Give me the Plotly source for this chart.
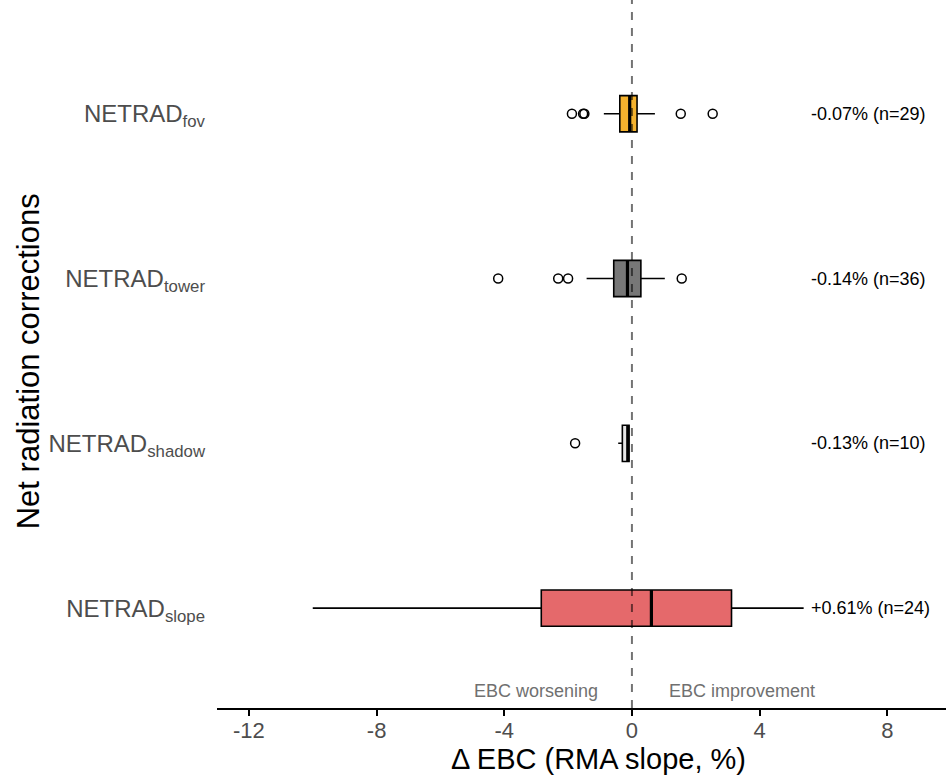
import plotly.graph_objects as go

# ---------------- data ----------------
categories = ["NETRAD<sub>slope</sub>", "NETRAD<sub>shadow</sub>", "NETRAD<sub>tower</sub>", "NETRAD<sub>fov</sub>"]
q1 = [-2.84, -0.30, -0.57, -0.38]
median = [0.61, -0.13, -0.14, -0.07]
q3 = [3.12, -0.09, 0.28, 0.16]
lower_whisker = [-10.0, -0.43, -1.42, -0.88]
upper_whisker = [5.38, -0.09, 1.03, 0.72]
outliers = [
    [],
    [-1.78],
    [-4.19, -2.31, -2.0, 1.56],
    [-1.88, -1.53, -1.49, 1.53, 2.53],
]
labels = ["+0.61% (n=24)", "-0.13% (n=10)", "-0.14% (n=36)", "-0.07% (n=29)"]
fill_colors = ["#E5696B", "#E6E6E6", "#777777", "#F4B22E"]

FONT = "Liberation Sans, Arial, sans-serif"
pos = list(range(len(categories)))
BOXW = 0.22

fig = go.Figure()

for i in pos:
    fig.add_trace(go.Box(
        y=[pos[i]], q1=[q1[i]], median=[median[i]], q3=[q3[i]],
        lowerfence=[lower_whisker[i]], upperfence=[upper_whisker[i]],
        orientation="h", width=BOXW, whiskerwidth=0,
        fillcolor=fill_colors[i], line=dict(color="black", width=1.6),
        boxpoints=False, showlegend=False, hoverinfo="skip",
    ))
    # thicker median line (ggplot style)
    fig.add_trace(go.Scatter(
        x=[median[i], median[i]], y=[pos[i] - BOXW / 2, pos[i] + BOXW / 2],
        mode="lines", line=dict(color="black", width=3.2),
        showlegend=False, hoverinfo="skip",
    ))
    if outliers[i]:
        fig.add_trace(go.Scatter(
            x=outliers[i], y=[pos[i]] * len(outliers[i]), mode="markers",
            marker=dict(symbol="circle-open", size=9, color="black", line=dict(width=1.5)),
            showlegend=False, hoverinfo="skip",
        ))
    fig.add_annotation(x=5.55, y=pos[i], text=labels[i], showarrow=False,
                       xanchor="left", yanchor="middle",
                       font=dict(family=FONT, size=18, color="black"))

# zero reference line
fig.add_shape(type="line", x0=0, x1=0, xref="x", yref="paper", y0=0, y1=1,
              line=dict(color="rgba(0,0,0,0.55)", width=2, dash="8px,8px"), layer="above")

fig.add_annotation(x=-1.0, y=-0.5, text="EBC worsening", showarrow=False,
                   xanchor="right", yanchor="middle",
                   font=dict(family=FONT, size=18, color="#707070"))
fig.add_annotation(x=1.1, y=-0.5, text="EBC improvement", showarrow=False,
                   xanchor="left", yanchor="middle",
                   font=dict(family=FONT, size=18, color="#707070"))

fig.add_annotation(xref="paper", yref="paper", x=-0.259, y=0.49,
                   text="Net radiation corrections", textangle=-90, showarrow=False,
                   xanchor="center", yanchor="middle",
                   font=dict(family=FONT, size=31, color="black"))

# x-axis title (panel centre lies right of the visible crop in the reference)
fig.add_annotation(xref="paper", yref="paper", x=0.524, y=-0.0725,
                   text="Δ EBC (RMA slope, %)", showarrow=False,
                   xanchor="center", yanchor="middle", borderpad=0,
                   font=dict(family=FONT, size=29, color="black"))

fig.update_layout(
    width=946, height=777,
    margin=dict(l=217, r=0, t=0, b=69),
    paper_bgcolor="white", plot_bgcolor="white",
    font=dict(family=FONT),
    xaxis=dict(
        range=[-13.0, 9.84], tickvals=[-12, -8, -4, 0, 4, 8],
        ticktext=["-12", "-8", "-4", "0", "4", "8"],
        showline=True, linecolor="black", linewidth=2.2,
        ticks="outside", ticklen=6, tickwidth=1.6, tickcolor="black",
        tickfont=dict(size=22, color="#4D4D4D"), ticklabelstandoff=-5,
        showgrid=False, zeroline=False,
    ),
    yaxis=dict(
        range=[-0.606, 3.69], tickvals=pos, ticktext=categories,
        showline=False, showgrid=False, zeroline=False, ticks="",
        tickfont=dict(size=24, color="#4D4D4D"), ticklabelstandoff=11,
    ),
)

fig.write_html("out.html")
